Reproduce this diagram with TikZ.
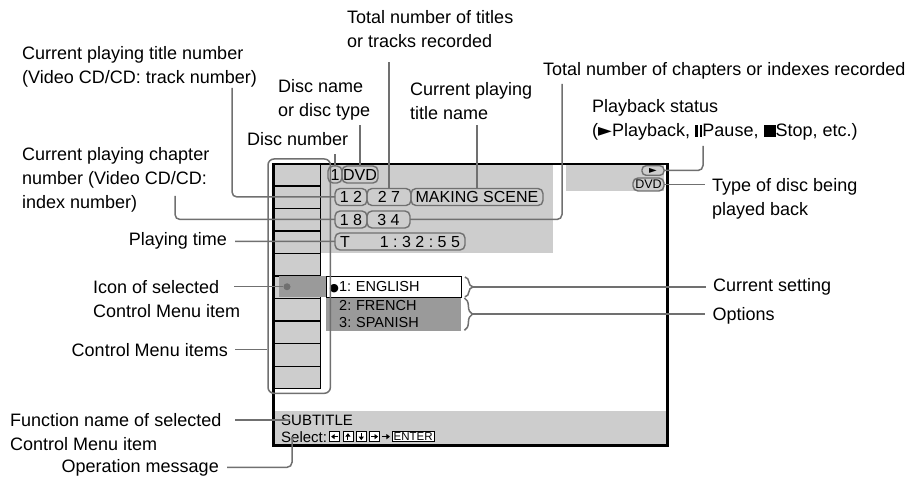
\documentclass[tikz,border=0pt]{standalone}
\usepackage{fontspec}
\setmainfont{Liberation Sans}
\newfontfamily\symfont{DejaVu Sans}
\usepackage{tikz}
\usetikzlibrary{positioning,fit,arrows.meta,decorations.pathreplacing}

\definecolor{scrgray}{HTML}{CDCDCD}
\definecolor{selgray}{HTML}{9A9A9A}
\definecolor{leadgray}{HTML}{707070}
\newcommand{\lblfont}{\fontsize{18}{24}\selectfont}
\newcommand{\osdfont}{\fontsize{15}{17}\selectfont}
\frenchspacing

\begin{document}
\begin{tikzpicture}[x=1pt,y=-1pt,
    lbl/.style={font=\lblfont,inner sep=0pt,align=left},
    lead/.style={draw=leadgray,line width=1.5pt,rounded corners=5pt},
    area/.style={fill=scrgray,inner sep=0pt,anchor=north west},
    pill/.style={draw=leadgray,line width=1.4pt,rounded corners=5pt,inner sep=0pt,
                 outer sep=0pt,minimum height=17pt,font=\fontsize{16}{17}\selectfont},
    cell/.style={draw=black,line width=1.3pt,fill=scrgray,minimum width=48pt,
                 minimum height=22.5pt,inner sep=0pt,anchor=north west},
    key/.style={draw=black,fill=white,line width=0.8pt,minimum size=10pt,inner sep=0pt},
    keyarr/.style={-{Triangle[length=3.5pt,width=5pt]},line width=1pt},
    brc/.style={draw=leadgray,line width=1.5pt,decorate,decoration={brace,amplitude=8pt}},
  ]
  \useasboundingbox (0,0) rectangle (911,481);

  % Screen areas
  \node[area,minimum width=233pt,minimum height=90pt] (info) at (320,163) {};
  \node[area,minimum width=98pt,minimum height=28pt] (stat) at (566,163) {};
  \node[area,minimum width=394pt,minimum height=33pt] (bar) at (272,411) {};

  % Control Menu column
  \foreach \i in {0,...,9}
    \node[cell] (cell\i) at (272,163+22.5*\i) {};
  \node[fill=selgray,minimum width=47pt,minimum height=21pt,inner sep=0pt,anchor=west]
    (selfill) at (279,286.75) {};
  \node[circle,fill=leadgray,minimum size=7pt,inner sep=0pt] (icodot) at (287,286.75) {};

  % Setting and options
  \node[fill=selgray,anchor=north west,minimum height=34pt,text width=109pt,inner xsep=13pt,
        inner ysep=0pt,align=left,font=\fontsize{14.5}{17}\selectfont] (opts) at (326,297)
    {2: FRENCH\\3: SPANISH};
  \node[draw=black,line width=0.9pt,fill=white,anchor=north west,minimum height=21pt,
        text width=129pt,inner xsep=3pt,inner ysep=0pt,font=\fontsize{14.5}{17}\selectfont]
    (engl) at (326,276) {{\symfont\fontsize{11}{11}\selectfont●}1: ENGLISH};

  % Info fields
  \node[pill,minimum width=14pt,anchor=west] (r1a) at (328,174.5) {1};
  \node[pill,minimum width=36pt,right=0pt of r1a] (r1b) {DVD};
  \node[pill,minimum width=32pt,anchor=west] (r2a) at (335,197) {1 2};
  \node[pill,minimum width=44pt,right=0pt of r2a] (r2b) {2 7};
  \node[pill,minimum width=132pt,right=0pt of r2b] (r2c) {MAKING SCENE};
  \node[pill,minimum width=32pt,anchor=west] (r3a) at (335,219.5) {1 8};
  \node[pill,minimum width=43pt,right=0pt of r3a] (r3b) {3 4};
  \node[pill,minimum width=130pt,anchor=west] (r4) at (335,241.5) {T\hspace{30pt}1 : 3 2 : 5 5};
  \node[pill,font=\symfont\fontsize{10}{10}\selectfont,minimum width=22pt,minimum height=9.5pt,
        rounded corners=4pt,anchor=east] (pplay) at (664,170.5) {►};
  \node[pill,font=\fontsize{12.5}{12.5}\selectfont,minimum width=31pt,minimum height=13pt,
        anchor=east] (pdvd) at (664,184.5) {DVD};

  % Message bar
  \node[font=\osdfont,inner sep=0pt,anchor=base west] (subt) at (281,425) {SUBTITLE};
  \node[font=\osdfont,inner sep=0pt,anchor=base west] (selt) at (281,442) {Select:};
  \node[key,right=2pt of selt] (k1) {};
  \node[key,right=2.5pt of k1] (k2) {};
  \node[key,right=2.5pt of k2] (k3) {};
  \node[key,right=2.5pt of k3] (k4) {};
  \node[draw=black,fill=white,line width=0.8pt,inner sep=1.3pt,font=\fontsize{11.5}{11.5}\selectfont,
        right=12pt of k4] (kent) {ENTER};
  \foreach \k/\a in {k1/180,k2/-90,k3/90,k4/0}
    \draw[keyarr] (\k.center) ++(\a+180:3.5) -- ++(\a:7);
  \draw[keyarr] ([xshift=2pt]k4.east) -- ([xshift=-2pt]kent.west);

  % Screen frame and menu bracket
  \node[draw=black,line width=2.5pt,minimum width=394pt,minimum height=281pt,inner sep=0pt,
        anchor=north west] (screen) at (272,163) {};
  \node[fit=(cell0)(cell9)(selfill),draw=leadgray,line width=1.5pt,rounded corners=6pt,
        inner sep=4pt] (menubox) {};
  \draw[brc] ([xshift=3pt,yshift=-1pt]engl.north east) -- ([xshift=3pt,yshift=1pt]engl.south east);
  \draw[brc] ([xshift=3pt,yshift=-1pt]opts.north east) -- ([xshift=3pt,yshift=1pt]opts.south east);

  % Labels (base = last line)
  \node[lbl,anchor=base west] (ltitle) at (22,84) {Current playing title number\\(Video CD/CD: track number)};
  \node[lbl,anchor=base west] (lchap) at (22,209) {Current playing chapter\\number (Video CD/CD:\\index number)};
  \node[lbl,anchor=base east] (ltime) at (227,246) {Playing time};
  \node[lbl,anchor=base west] (licon) at (93,317) {Icon of selected\\Control Menu item};
  \node[lbl,anchor=base east] (litems) at (228,356) {Control Menu items};
  \node[lbl,anchor=base west] (lfunc) at (10,450) {Function name of selected\\Control Menu item};
  \node[lbl,anchor=base east] (lopmsg) at (219,472) {Operation message};
  \node[lbl,anchor=base west] (ldiscno) at (247,146) {Disc number};
  \node[lbl,anchor=base west] (ldiscname) at (278,117) {Disc name\\or disc type};
  \node[lbl,anchor=base west] (ltotal) at (347,48) {Total number of titles\\or tracks recorded};
  \node[lbl,anchor=base west] (lname) at (410,120) {Current playing\\title name};
  \node[lbl,anchor=base west] (ltotch) at (543,76) {Total number of chapters or indexes recorded};
  \node[lbl,anchor=base west] (lstatus) at (592,137)
    {Playback status\\({\symfont►}Playback, \rule{2.8pt}{12pt}\hspace{1.8pt}\rule{2.8pt}{12pt}Pause,
     \rule{12pt}{12pt}Stop, etc.)};
  \node[lbl,anchor=base west] (ltype) at (712,216) {Type of disc being\\played back};
  \node[lbl,right=251pt of engl] (lsetting) {Current setting};
  \node[lbl,right=251pt of opts,yshift=-2pt] (loptions) {Options};

  % Leaders
  \coordinate (ctitle) at (232,88);
  \coordinate (cchapno) at (175,196);
  \coordinate (ctotch) at (562,84);
  \coordinate (cstat) at (703,146);
  \draw[lead] (ctitle) |- (r2a.west);
  \draw[lead] (cchapno) |- (r3a.west);
  \draw[lead] ([xshift=8pt]ltime.east) -- (r4.west);
  \draw[lead] (icodot.west) -- ++(-49,0);
  \draw[lead] ([xshift=7pt]litems.east) -- (menubox.west |- litems.east);
  \draw[lead] ([xshift=9pt]subt.west) -- ++(-55,0);
  \draw[lead] ([xshift=11pt]selt.west) |- ([xshift=8pt]lopmsg.east);
  \draw[lead] (r1a.north) -- ++(0,-12);
  \draw[lead] (r1b.north) -- ++(0,-41);
  \draw[lead] (r2b.north) -- ++(0,-126);
  \draw[lead] (r2c.north) -- ++(0,-63);
  \draw[lead] (ctotch) |- (r3b.east);
  \draw[lead] (cstat) |- (pplay.east);
  \draw[lead] (pdvd.east) -- ++(41,0);
  \draw[lead] ([xshift=11pt]engl.east) -- ([xshift=-7pt]lsetting.west);
  \draw[lead] ([xshift=11pt]opts.east) -- ([xshift=-7pt]loptions.west |- opts.east);
\end{tikzpicture}
\end{document}
